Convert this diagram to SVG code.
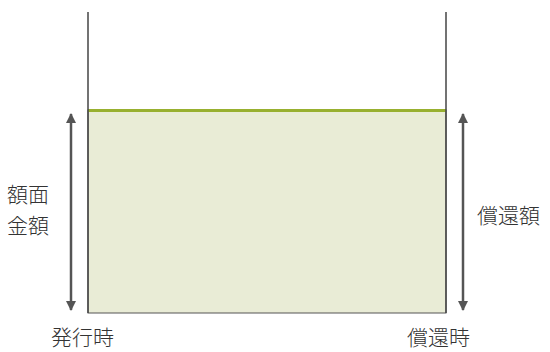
<svg xmlns="http://www.w3.org/2000/svg" width="550" height="352" viewBox="0 0 550 352">
<defs>
<marker id="ah" viewBox="0 0 10 10" refX="9" refY="5" markerWidth="4" markerHeight="4" orient="auto-start-reverse" markerUnits="strokeWidth">
<path d="M0,0 L10,5 L0,10 z" fill="#555"/>
</marker>
<style>
.t{font-family:"Noto Sans CJK JP","Noto Sans",sans-serif;font-size:21px;font-weight:300;fill:#333;}
.ln{stroke:#444;stroke-width:1.5;fill:none;}
.ar{stroke:#555;stroke-width:2.5;fill:none;marker-start:url(#ah);marker-end:url(#ah);}
</style>
</defs>
<g id="box">
<rect x="88" y="110" width="358" height="203" fill="#e9ecd6" stroke="#555" stroke-width="1"/>
<line x1="88" y1="110.5" x2="446" y2="110.5" stroke="#98b02f" stroke-width="3"/>
</g>
<g id="connectors">
<line class="ln" x1="88" y1="12" x2="88" y2="313"/>
<line class="ln" x1="446" y1="12" x2="446" y2="313"/>
<line class="ar" x1="71" y1="114" x2="71" y2="310"/>
<line class="ar" x1="463" y1="114" x2="463" y2="310"/>
</g>
<g id="labels">
<text class="t" x="7" y="202">額面</text>
<text class="t" x="7" y="233">金額</text>
<text class="t" x="477" y="223">償還額</text>
<text class="t" x="51" y="345">発行時</text>
<text class="t" x="407" y="345">償還時</text>
</g>
</svg>
